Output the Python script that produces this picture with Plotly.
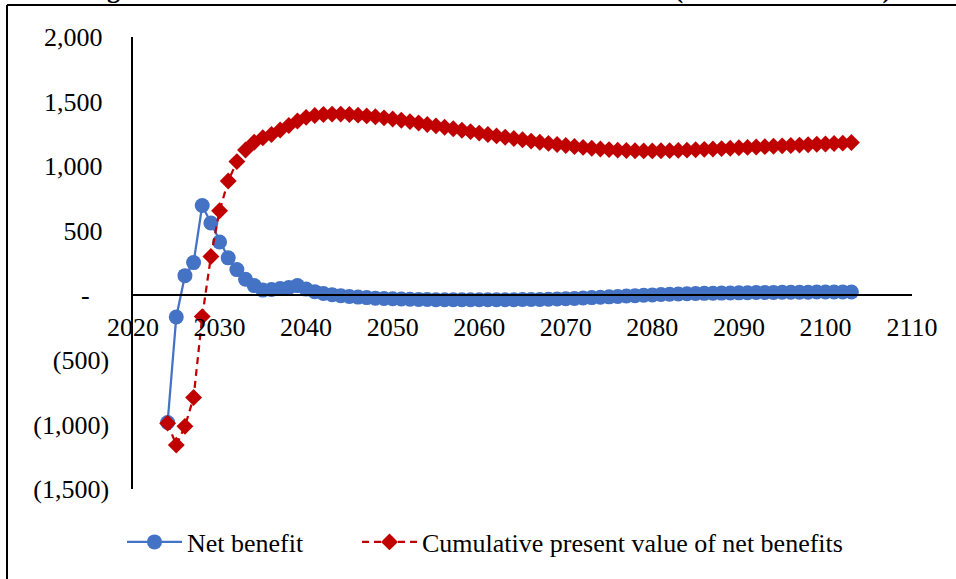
import plotly.graph_objects as go

# Years covered by the analysis
years = list(range(2024, 2104))

# Annual net benefit (millions of dollars)
net_benefit = [
    -985, -168, 152, 253, 695, 560, 413, 290, 199, 124,
    75, 40, 45, 52, 60, 75, 48, 28, 14, 5,
    -3, -9, -14, -18, -22, -25, -27, -29, -31, -32,
    -33, -34, -34, -35, -35, -35, -35, -35, -35, -34,
    -34, -33, -33, -32, -30, -28, -26, -24, -21, -18,
    -15, -12, -9, -6, -3, 0, 3, 6, 8, 10,
    12, 14, 15, 16, 17, 18, 19, 20, 21, 22,
    22, 23, 23, 24, 24, 25, 25, 25, 26, 26,
]

# Cumulative present value of net benefits (millions of dollars)
cumulative_pv = [
    -990, -1160, -1015, -792, -165, 300, 655, 885, 1035, 1125,
    1185, 1220, 1245, 1280, 1315, 1350, 1378, 1392, 1400, 1403,
    1403, 1400, 1395, 1389, 1382, 1374, 1365, 1355, 1345, 1334,
    1323, 1312, 1301, 1290, 1278, 1267, 1256, 1245, 1234, 1224,
    1214, 1204, 1194, 1185, 1176, 1168, 1160, 1152, 1145, 1139,
    1133, 1128, 1124, 1121, 1119, 1118, 1118, 1119, 1120, 1122,
    1124, 1127, 1130, 1133, 1136, 1139, 1142, 1145, 1148, 1151,
    1154, 1157, 1160, 1163, 1166, 1169, 1172, 1175, 1178, 1183,
]

x_ticks = list(range(2020, 2111, 10))
y_ticks = [2000, 1500, 1000, 500, 0, -500, -1000, -1500]
y_tick_labels = ["2,000\u00a0", "1,500\u00a0", "1,000\u00a0", "500\u00a0",
                 "-\u00a0\u00a0\u00a0", "(500)", "(1,000)", "(1,500)"]

FONT = "Times New Roman, Liberation Serif, serif"
FS = 26
BLUE = "#4472C4"
RED = "#C00000"

fig = go.Figure()
fig.add_trace(go.Scatter(
    x=years, y=net_benefit, name="Net benefit",
    mode="lines+markers",
    line=dict(color=BLUE, width=2.25),
    marker=dict(symbol="circle", size=15, color=BLUE),
    legend="legend",
))
fig.add_trace(go.Scatter(
    x=years, y=cumulative_pv, name="Cumulative present value of net benefits",
    mode="lines+markers",
    line=dict(color=RED, width=2.25, dash="7px,5px"),
    marker=dict(symbol="diamond", size=13, color=RED),
    legend="legend2",
))

Y_MIN, Y_MAX = -1500, 2000
L, R, T, B = 133, 44, 37, 90


def px_x(px):
    return (px - L) / (956 - L - R)


def px_y(py):
    return (579 - B - py) / (579 - T - B)


legend_common = dict(
    orientation="h", yanchor="middle", xanchor="left",
    font=dict(family=FONT, size=FS, color="black"),
    bgcolor="rgba(0,0,0,0)", itemwidth=55,
)

fig.update_layout(
    width=956, height=579,
    margin=dict(l=L, r=R, t=T, b=B),
    paper_bgcolor="white", plot_bgcolor="white",
    font=dict(family=FONT, size=FS, color="black"),
    showlegend=True,
    legend=dict(x=px_x(122), y=px_y(542), **legend_common),
    legend2=dict(x=px_x(357), y=px_y(542), **legend_common),
    xaxis=dict(
        range=[2020, 2110], tickvals=x_ticks, ticktext=[str(v) for v in x_ticks],
        showgrid=False, zeroline=False, showline=True, linecolor="black", linewidth=1.5,
        ticks="", anchor="free", position=(0 - Y_MIN) / (Y_MAX - Y_MIN),
        ticklabelstandoff=9,
        tickfont=dict(family=FONT, size=FS),
    ),
    yaxis=dict(
        range=[Y_MIN, Y_MAX], tickvals=y_ticks, ticktext=y_tick_labels,
        showgrid=False, zeroline=False, showline=True, linecolor="black", linewidth=1.5,
        ticks="", ticklabelstandoff=17,
        tickfont=dict(family=FONT, size=FS),
    ),
)

# Page frame (left and top rules)
fig.add_shape(type="line", xref="paper", yref="paper",
              x0=px_x(7), x1=px_x(7), y0=px_y(5), y1=px_y(600),
              line=dict(color="black", width=2))
fig.add_shape(type="line", xref="paper", yref="paper",
              x0=px_x(7), x1=px_x(970), y0=px_y(5), y1=px_y(5),
              line=dict(color="black", width=2))

# Figure caption above the frame
fig.add_annotation(
    text="<b>Figure 1. Net Benefits and Cumulative Present Value (millions of dollars)</b>",
    xref="paper", yref="paper", x=px_x(487), y=px_y(6),
    xanchor="center", yanchor="bottom", showarrow=False,
    font=dict(family=FONT, size=FS, color="black"),
)

fig.write_html("out.html")
